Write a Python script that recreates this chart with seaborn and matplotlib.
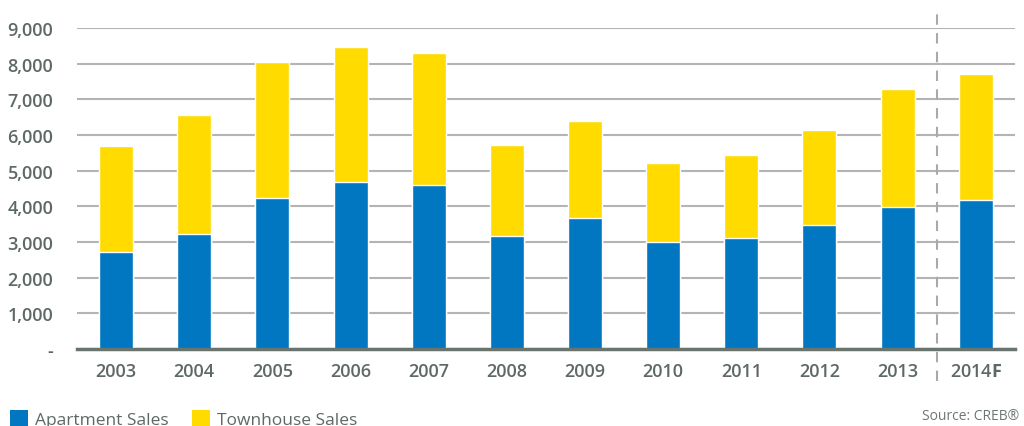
import matplotlib
matplotlib.use("Agg")
import matplotlib.pyplot as plt
from matplotlib.patches import Patch
from matplotlib.ticker import FuncFormatter
import seaborn as sns
import pandas as pd

# Calgary apartment and townhouse sales by year (2014 is a forecast)
years = ["2003", "2004", "2005", "2006", "2007", "2008", "2009",
         "2010", "2011", "2012", "2013", "2014F"]
apartment_sales = [2720, 3220, 4230, 4680, 4600, 3170, 3670, 3000, 3110, 3480, 3980, 4180]
townhouse_sales = [2970, 3340, 3810, 3790, 3700, 2550, 2720, 2210, 2330, 2650, 3310, 3530]
tick_labels = ["2003", "2004", "2005", "2006", "2007", "2008", "2009",
               "2010", "2011", "2012", "2013", "2014$\\mathbf{F}$"]
y_ticks = [0, 1000, 2000, 3000, 4000, 5000, 6000, 7000, 8000, 9000]

BLUE = "#0077C0"
YELLOW = "#FFDB00"
TEXT = "#5e6964"

sns.set_theme(style="white")
plt.rcParams["font.family"] = ["Open Sans", "DejaVu Sans"]
plt.rcParams["mathtext.fontset"] = "custom"
plt.rcParams["mathtext.bf"] = "Open Sans:bold"
plt.rcParams["mathtext.rm"] = "Open Sans"

df = pd.DataFrame({"year": years, "apartment": apartment_sales, "townhouse": townhouse_sales})
df["total"] = df["apartment"] + df["townhouse"]

fig = plt.figure(figsize=(10.24, 4.27), dpi=100)
ax = fig.add_axes([0.0752, 0.180, 0.9158, 0.752])

# Stacked bars: full height in yellow, apartment share in blue on top of it
sns.barplot(data=df, x="year", y="total", color=YELLOW, width=0.435,
            saturation=1, ax=ax, zorder=3)
sns.barplot(data=df, x="year", y="apartment", color=BLUE, width=0.435,
            saturation=1, ax=ax, zorder=4)

ax.set_xlim(-0.5, len(years) - 0.5)
ax.set_ylim(0, 9000)
ax.set_yticks(y_ticks)
ax.yaxis.set_major_formatter(FuncFormatter(lambda v, p: "-" if v == 0 else f"{int(v):,}"))
ax.set_xticks(range(len(years)))
ax.set_xticklabels(tick_labels)
ax.set_xlabel("")
ax.set_ylabel("")

ax.grid(axis="y", color="#b4b4b4", linewidth=1.5, zorder=0)
ax.grid(axis="x", visible=False)
for side in ["top", "right", "left"]:
    ax.spines[side].set_visible(False)
ax.spines["bottom"].set_color("#6a746f")
ax.spines["bottom"].set_linewidth(2.5)
ax.spines["bottom"].set_zorder(5)

ax.tick_params(axis="y", length=0, pad=17, labelsize=13, labelcolor=TEXT)
ax.tick_params(axis="x", length=0, pad=9, labelsize=13, labelcolor=TEXT)
for lab in ax.get_xticklabels() + ax.get_yticklabels():
    lab.set_fontweight("semibold")

# Separator between actual and forecast years
ax.plot([10.5, 10.5], [-0.1, 1.06], transform=ax.get_xaxis_transform(),
        color="#a9a9a9", linewidth=1.5, linestyle=(0, (5, 4)),
        clip_on=False, zorder=6)

handles = [Patch(facecolor=BLUE, edgecolor="none", label="Apartment Sales"),
           Patch(facecolor=YELLOW, edgecolor="none", label="Townhouse Sales")]
leg = fig.legend(handles=handles, loc="lower left", bbox_to_anchor=(0.010, -0.004),
                 ncol=2, frameon=False, fontsize=12.5, handlelength=1.05,
                 handleheight=1.05, handletextpad=0.4, columnspacing=1.3,
                 borderpad=0, borderaxespad=0)
for t in leg.get_texts():
    t.set_color(TEXT)
    t.set_fontweight("medium")

fig.text(0.995, 0.008, "Source: CREB®", ha="right", va="bottom",
         fontsize=10, color="#6d7772")

fig.savefig("out.png", dpi=100)
